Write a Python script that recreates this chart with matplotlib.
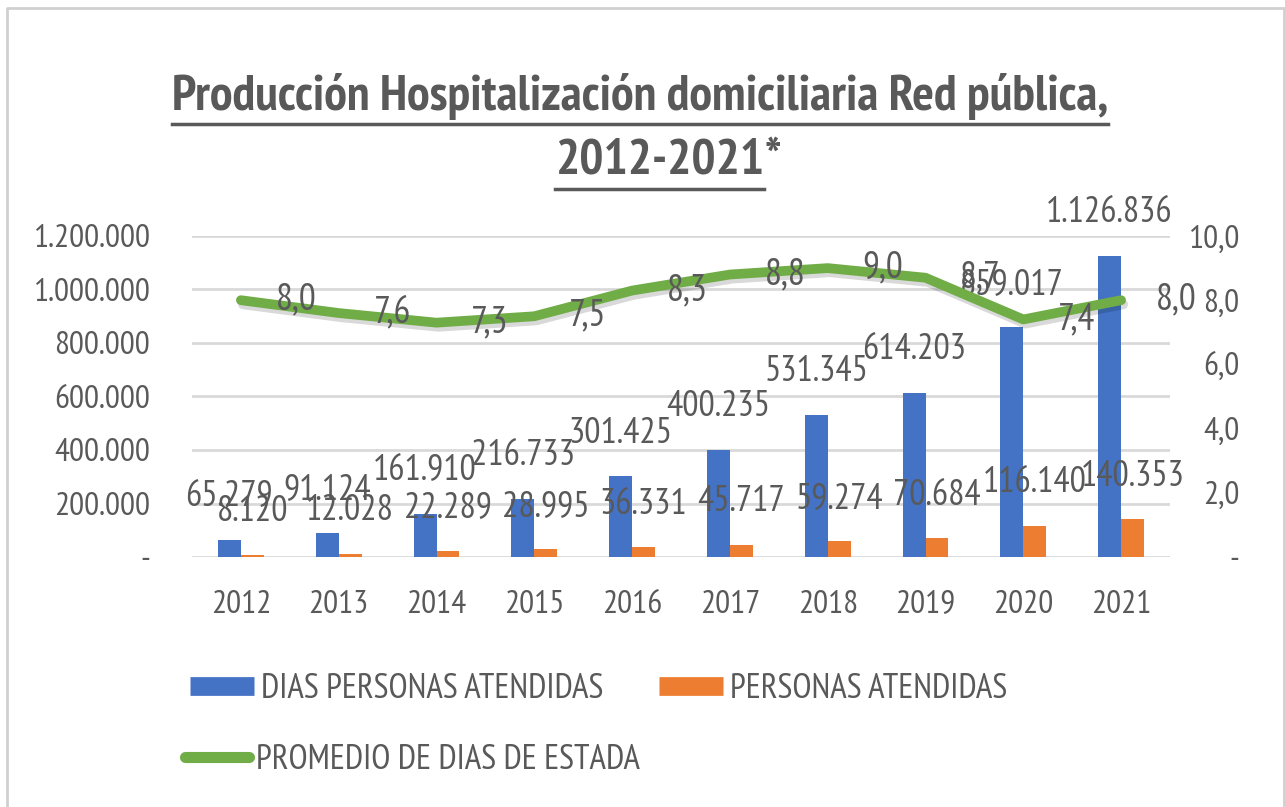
import matplotlib
matplotlib.use("Agg")
import matplotlib.pyplot as plt
import matplotlib.patheffects as pe
from matplotlib.lines import Line2D
from matplotlib.ticker import FuncFormatter

# --- Data ---
years = ["2012", "2013", "2014", "2015", "2016", "2017", "2018", "2019", "2020", "2021"]
dias_personas = [65279, 91124, 161910, 216733, 301425, 400235, 531345, 614203, 859017, 1126836]
personas = [8120, 12028, 22289, 28995, 36331, 45717, 59274, 70684, 116140, 140353]
promedio_estada = [8.0, 7.6, 7.3, 7.5, 8.3, 8.8, 9.0, 8.7, 7.4, 8.0]
series_names = ["DIAS PERSONAS ATENDIDAS", "PERSONAS ATENDIDAS", "PROMEDIO DE DIAS DE ESTADA"]

BLUE = "#4472C4"
ORANGE = "#ED7D31"
GREEN = "#70AD47"
TXT = "#595959"

plt.rcParams["font.family"] = ["PT Sans Narrow", "Fira Sans Condensed", "Asap Condensed",
                               "Barlow Condensed", "DejaVu Sans"]


def miles(v):
    return f"{int(round(v)):,}".replace(",", ".")


def coma(v):
    return f"{v:.1f}".replace(".", ",")


W, H = 1285, 807
fig = plt.figure(figsize=(W / 100, H / 100), dpi=100)

# --- outer frame (top, left, right) ---
fig.add_artist(Line2D([7 / W, 7 / W, 1284 / W, 1284 / W], [0, 1 - 8 / H, 1 - 8 / H, 0],
                      color="#D0D0D0", lw=2, transform=fig.transFigure))

ax = fig.add_axes([192 / W, 1 - 557 / H, (1170 - 192) / W, (557 - 236) / H])
ax2 = ax.twinx()

x = list(range(len(years)))
bw = 0.235
b1 = ax.bar([i - bw / 2 for i in x], dias_personas, bw, color=BLUE, zorder=2)
b2 = ax.bar([i + bw / 2 for i in x], personas, bw, color=ORANGE, zorder=2)

ax.set_ylim(0, 1200000)
ax.set_yticks(range(0, 1200001, 200000))
ax.yaxis.set_major_formatter(FuncFormatter(lambda v, p: "-" if v == 0 else miles(v)))
ax.set_xlim(-0.5, len(years) - 0.5)
ax.set_xticks(x)
ax.set_xticklabels(years)
ax.grid(axis="y", color="#D9D9D9", lw=2, zorder=0)
ax.set_axisbelow(True)
for s in list(ax.spines.values()) + list(ax2.spines.values()):
    s.set_visible(False)
ax.tick_params(axis="both", length=0, labelsize=24, labelcolor=TXT)
ax.tick_params(axis="x", pad=24)
ax.tick_params(axis="y", pad=30)

ax2.plot(x, promedio_estada, color=GREEN, lw=7, solid_joinstyle="round", solid_capstyle="round",
         zorder=3, path_effects=[pe.SimpleLineShadow(offset=(1.5, -3), shadow_color="#000000", alpha=0.15),
                                 pe.Normal()])
ax2.set_ylim(0, 10)
ax2.set_yticks(range(0, 11, 2))
ax2.yaxis.set_major_formatter(FuncFormatter(lambda v, p: "-" if v == 0 else coma(v)))
ax2.tick_params(axis="y", length=0, labelsize=24, labelcolor=TXT, pad=50)
for t in ax2.get_yticklabels():
    t.set_horizontalalignment("right")
ax2.set_zorder(ax.get_zorder() + 1)
ax2.patch.set_visible(False)

# --- data labels ---
for bars, vals in [(b1, dias_personas), (b2, personas)]:
    for rect, v in zip(bars, vals):
        ax.annotate(miles(v), (rect.get_x() + rect.get_width() / 2, v), xytext=(0, 31),
                    textcoords="offset points", ha="center", va="center", fontsize=26, color=TXT,
                    zorder=5)
for i, v in zip(x, promedio_estada):
    ax2.annotate(coma(v), (i, v), xytext=(25, 0), textcoords="offset points",
                 ha="left", va="center", fontsize=27, color=TXT, zorder=5)

# --- title with underline, sized to the reference width ---
fig.canvas.draw()
r = fig.canvas.get_renderer()
t1 = fig.text(640 / W, 1 - 97 / H, "Producción Hospitalización domiciliaria Red pública,",
              ha="center", va="center", fontsize=36, fontweight="bold", color=TXT)
w = t1.get_window_extent(r).width
t1.set_fontsize(36 * 938 / w)
fs = t1.get_fontsize()
t2 = fig.text(0, 1 - 161 / H, "2012-2021", ha="left", va="center",
              fontsize=fs, fontweight="bold", color=TXT)
t3 = fig.text(0, 1 - 161 / H, "*", ha="left", va="center", fontsize=fs, fontweight="bold", color=TXT)
w2 = t2.get_window_extent(r).width
w3 = t3.get_window_extent(r).width
x2 = 668 - (w2 + w3) / 2
t2.set_x(x2 / W)
t3.set_x((x2 + w2) / W)
bb1 = t1.get_window_extent(r)
fig.add_artist(Line2D([bb1.x0 / W, bb1.x1 / W], [1 - 124 / H] * 2, color=TXT, lw=2.5,
                      transform=fig.transFigure))
fig.add_artist(Line2D([x2 / W, (x2 + w2) / W], [1 - 189 / H] * 2, color=TXT, lw=2.5,
                      transform=fig.transFigure))

# --- legend: one entry per anchor, as laid out in the reference ---
handles = [Line2D([], [], color=BLUE, lw=13.5, solid_capstyle="butt"),
           Line2D([], [], color=ORANGE, lw=13.5, solid_capstyle="butt"),
           Line2D([], [], color=GREEN, lw=8, solid_capstyle="round")]
anchors = [(190, 689), (659, 689), (185, 760)]
for h, lab, (ax_px, ay_px) in zip(handles, series_names, anchors):
    leg = fig.legend([h], [lab], loc="center left", bbox_to_anchor=(ax_px / W, 1 - ay_px / H),
                     frameon=False, fontsize=25, handlelength=1.85, handletextpad=0.2,
                     borderaxespad=0, borderpad=0)
    for t in leg.get_texts():
        t.set_color(TXT)

fig.savefig("out.png", dpi=100)
